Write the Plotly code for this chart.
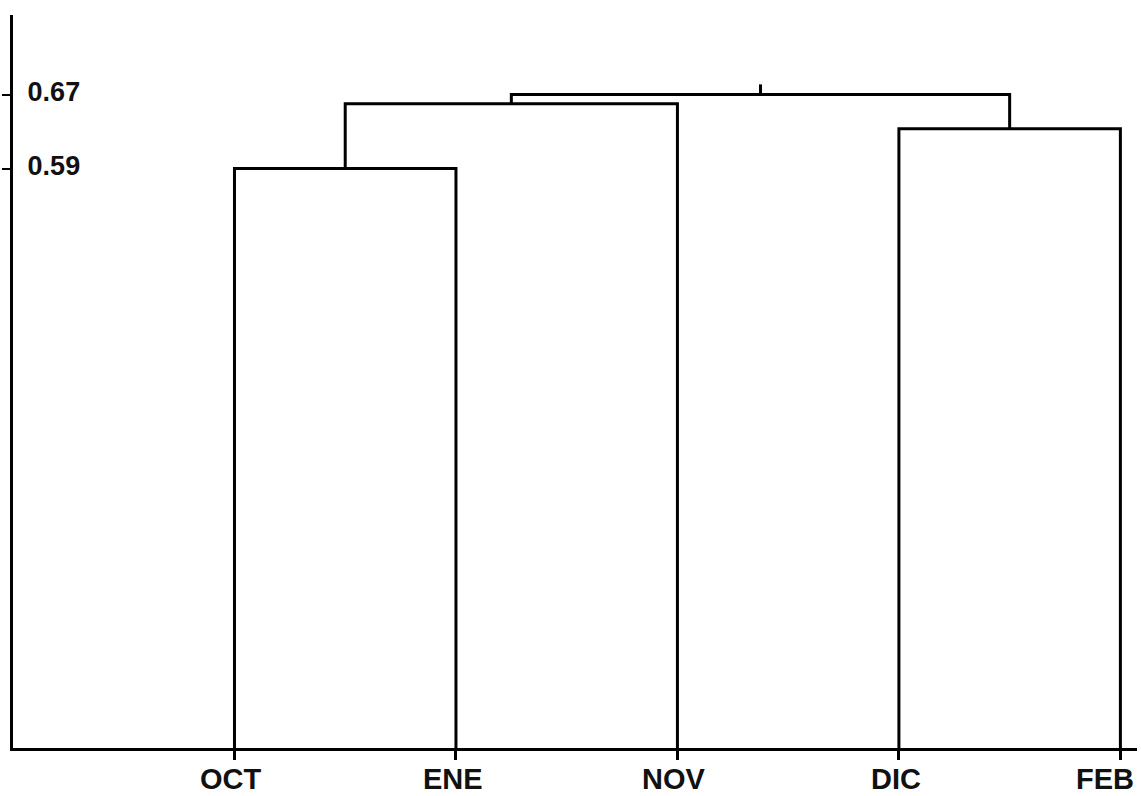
import plotly.graph_objects as go

# ---- data ----
leaves = ["OCT", "ENE", "NOV", "DIC", "FEB"]
# merge heights (similarity)
h_oct_ene = 0.59
h_octene_nov = 0.66
h_dic_feb = 0.633
h_root = 0.67
h_root_stub = 0.681
y_tick_vals = [0.59, 0.67]
y_tick_text = ["0.59", "0.67"]

y_range = [-0.0365, 0.756]
x_range = [-1.0, 4.075]
base = y_range[0]

xpos = {name: i for i, name in enumerate(leaves)}

segs_x = []
segs_y = []

def link(xa, ya, xb, yb, h):
    segs_x.extend([xa, xa, xb, xb, None])
    segs_y.extend([ya, h, h, yb, None])

# OCT + ENE
link(xpos["OCT"], base, xpos["ENE"], base, h_oct_ene)
c1 = (xpos["OCT"] + xpos["ENE"]) / 2
# (OCT,ENE) + NOV
link(c1, h_oct_ene, xpos["NOV"], base, h_octene_nov)
c2 = (c1 + xpos["NOV"]) / 2
# DIC + FEB
link(xpos["DIC"], base, xpos["FEB"], base, h_dic_feb)
c3 = (xpos["DIC"] + xpos["FEB"]) / 2
# root
link(c2, h_octene_nov, c3, h_dic_feb, h_root)
c4 = (c2 + c3) / 2
segs_x.extend([c4, c4, None])
segs_y.extend([h_root, h_root_stub, None])

fig = go.Figure()
fig.add_trace(go.Scatter(x=segs_x, y=segs_y, mode="lines",
                         line=dict(color="black", width=3),
                         hoverinfo="skip", showlegend=False))

xfont = dict(family="Liberation Sans, Arial, sans-serif", size=29, color="#111111", weight="bold")
yfont = dict(family="Liberation Sans, Arial, sans-serif", size=27, color="#111111", weight="bold")

annotations = []
for i, name in enumerate(leaves):
    last = i == len(leaves) - 1
    annotations.append(dict(
        x=xpos[name], y=0, xref="x", yref="paper",
        text=name, showarrow=False,
        xanchor="right" if last else "center",
        xshift=16 if last else -3,
        yanchor="top", yshift=-13, font=xfont))

fig.update_layout(
    width=1141, height=796,
    margin=dict(l=13, r=4, t=15, b=48),
    paper_bgcolor="white", plot_bgcolor="white",
    annotations=annotations,
    xaxis=dict(range=x_range, showgrid=False, zeroline=False,
               showline=True, linecolor="black", linewidth=3,
               tickvals=[xpos[n] for n in leaves], ticks="outside",
               ticklen=9, tickwidth=3, tickcolor="black",
               showticklabels=False),
    yaxis=dict(range=y_range, showgrid=False, zeroline=False,
               showline=True, linecolor="black", linewidth=3,
               tickvals=y_tick_vals, ticktext=y_tick_text,
               ticks="outside", ticklen=8, tickwidth=2, tickcolor="black",
               ticklabelposition="inside", ticklabelstandoff=17,
               ticklabelshift=-3, tickfont=yfont),
)

fig.write_html("out.html", config={"displayModeBar": False},
               post_script="document.body.style.margin='0';document.body.style.padding='0';")
